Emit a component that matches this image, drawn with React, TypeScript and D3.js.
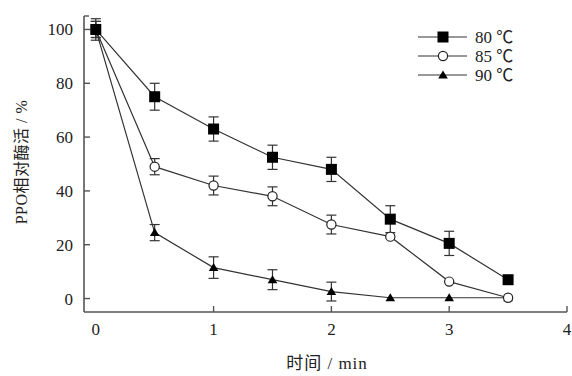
import React from 'react';
import * as d3 from 'd3';

// time points (min)
const times = [0, 0.5, 1, 1.5, 2, 2.5, 3, 3.5];

// relative PPO activity (%) and error bars
const series80 = [100, 75, 63, 52.5, 48, 29.5, 20.5, 7];
const err80 = [4, 5, 4.5, 4.5, 4.5, 5, 4.5, 0];
const series85 = [100, 49, 42, 38, 27.5, 23, 6.3, 0.3];
const err85 = [3, 3, 3.5, 3.5, 3.5, 0, 0, 0];
const series90 = [100, 24.5, 11.5, 7, 2.6, 0.3, 0.3, 0.3];
const err90 = [3, 3, 4, 3.7, 3.5, 0, 0, 0];

const seriesNames = ['80 ℃', '85 ℃', '90 ℃'];
const xTicks = [0, 1, 2, 3, 4];
const yTicks = [0, 20, 40, 60, 80, 100];

const FONT = "'Times New Roman', 'Liberation Serif', 'Noto Sans CJK SC', serif";
const AXIS = '#555';
const LINE = '#333';

const Marker = ({ kind, x, y }: { kind: number; x: number; y: number }) => {
  if (kind === 0) return <rect x={x - 5.5} y={y - 5.5} width={11} height={11} fill="#000" />;
  if (kind === 1) return <circle cx={x} cy={y} r={4.6} fill="#fff" stroke="#222" strokeWidth={1.2} />;
  return <path d={`M${x},${y - 4.5}L${x + 4.8},${y + 3.5}L${x - 4.8},${y + 3.5}Z`} fill="#000" />;
};

export default function App() {
  const x = d3.scaleLinear().domain([-0.1, 4]).range([84, 567]);
  const y = d3.scaleLinear().domain([-5, 105]).range([312, 16]);

  const all = [
    { v: series80, e: err80 },
    { v: series85, e: err85 },
    { v: series90, e: err90 },
  ];

  const line = d3
    .line<number>()
    .x((_, i) => x(times[i]))
    .y((d) => y(d));

  const legendY = [37, 56, 75];
  const txt = { fontFamily: FONT, fontSize: 17, fill: '#222' };

  return (
    <svg width={572} height={376} style={{ position: 'absolute', left: 0, top: 0, background: '#fff' }}>
      {/* axes */}
      <line x1={x(-0.1)} x2={x(4)} y1={y(-5)} y2={y(-5)} stroke={AXIS} strokeWidth={1.6} />
      <line x1={x(-0.1)} x2={x(-0.1)} y1={y(-5)} y2={y(105)} stroke={AXIS} strokeWidth={1.6} />
      <line x1={x(-0.1)} x2={x(-0.1) + 5} y1={y(105)} y2={y(105)} stroke={AXIS} strokeWidth={1.4} />
      {xTicks.map((t) => (
        <g key={'x' + t}>
          {t > 0 && <line x1={x(t)} x2={x(t)} y1={y(-5)} y2={y(-5) - 6} stroke={AXIS} strokeWidth={1.4} />}
          <text x={x(t)} y={335} textAnchor="middle" style={txt}>
            {String(t)}
          </text>
        </g>
      ))}
      {yTicks.map((t) => (
        <g key={'y' + t}>
          <line x1={x(-0.1)} x2={x(-0.1) + 6} y1={y(t)} y2={y(t)} stroke={AXIS} strokeWidth={1.4} />
          <text x={73} y={y(t) + 6} textAnchor="end" style={txt}>
            {String(t)}
          </text>
        </g>
      ))}
      <text x={327} y={369} textAnchor="middle" style={{ ...txt, letterSpacing: 1 }}>
        时间 / min
      </text>
      <text
        transform={`translate(27,162) rotate(-90)`}
        textAnchor="middle"
        style={{ ...txt, fontSize: 16, letterSpacing: 0.5 }}
      >
        PPO相对酶活 / %
      </text>

      {/* lines */}
      {all.map((s, k) => (
        <path key={'l' + k} d={line(s.v) || ''} fill="none" stroke={LINE} strokeWidth={1.2} />
      ))}

      {/* error bars */}
      {all.map((s, k) =>
        s.v.map((v, i) =>
          s.e[i] > 0 ? (
            <g key={`e${k}-${i}`} stroke="#333" strokeWidth={1.2}>
              <line x1={x(times[i])} x2={x(times[i])} y1={y(v + s.e[i])} y2={y(v - s.e[i])} />
              <line x1={x(times[i]) - 5} x2={x(times[i]) + 5} y1={y(v + s.e[i])} y2={y(v + s.e[i])} />
              <line x1={x(times[i]) - 5} x2={x(times[i]) + 5} y1={y(v - s.e[i])} y2={y(v - s.e[i])} />
            </g>
          ) : null
        )
      )}

      {/* markers: 90 first, then 85, 80 on top */}
      {[2, 1, 0].map((k) =>
        all[k].v.map((v, i) => <Marker key={`m${k}-${i}`} kind={k} x={x(times[i])} y={y(v)} />)
      )}

      {/* legend */}
      {seriesNames.map((name, k) => (
        <g key={'lg' + k}>
          <line x1={418} x2={467} y1={legendY[k]} y2={legendY[k]} stroke={LINE} strokeWidth={1.2} />
          <Marker kind={k} x={443} y={legendY[k]} />
          <text x={475} y={legendY[k] + 6} style={txt}>
            {name}
          </text>
        </g>
      ))}
    </svg>
  );
}
